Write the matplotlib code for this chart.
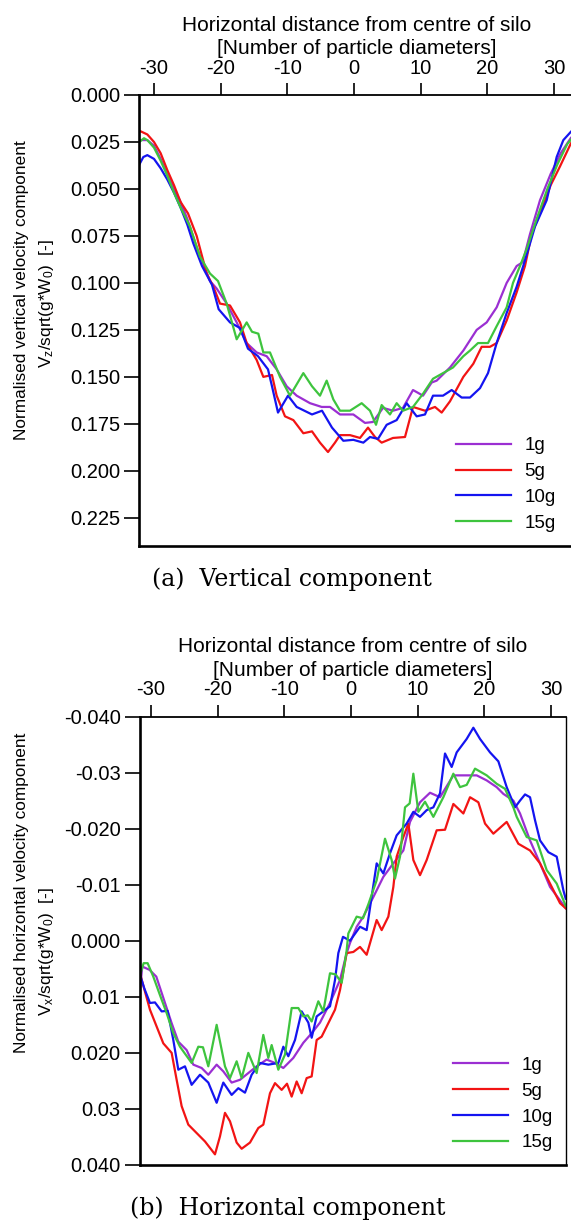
"""Vertical / horizontal velocity profiles across the silo for 1g, 5g, 10g, 15g."""
import matplotlib
matplotlib.use("Agg")
import matplotlib.pyplot as plt
from matplotlib.ticker import FixedLocator, FixedFormatter

plt.rcParams["font.family"] = ["Liberation Sans", "DejaVu Sans"]
plt.rcParams["mathtext.fontset"] = "custom"
plt.rcParams["mathtext.rm"] = "Liberation Sans"
plt.rcParams["mathtext.default"] = "regular"

# ---- data -------------------------------------------------------------------
LABELS = ["1g", "5g", "10g", "15g"]
COLORS = ["#9b2fd2", "#f21414", "#1414f0", "#3ec43e"]

X_TICKS = [-30, -20, -10, 0, 10, 20, 30]
X_TICKLABELS = ["-30", "-20", "-10", "0", "10", "20", "30"]

# (a) vertical component
VZ_TICKS = [0.000, 0.025, 0.050, 0.075, 0.100, 0.125, 0.150, 0.175, 0.200, 0.225]
VZ_TICKLABELS = ["0.000", "0.025", "0.050", "0.075", "0.100", "0.125",
                 "0.150", "0.175", "0.200", "0.225"]

vz_1g_x = [-32.2, -31, -30, -29, -28, -27, -26, -25, -23.6, -21.6, -20.6, -19.1,
           -17.6, -16.1, -14.6, -13.1, -11.6, -10.1, -8.6, -6.6, -4.85, -3.6, -2.1,
           -0.1, 1.65, 2.85, 4.35, 5.85, 7.35, 8.85, 10.35, 11.65, 12.4, 14.4, 16.4,
           18.4, 19.9, 21.4, 22.9, 24.4, 25.3, 26.4, 27.9, 29.5, 31, 32.5, 33]
vz_1g = [0.024, 0.024, 0.027, 0.034, 0.042, 0.050, 0.057, 0.066, 0.081, 0.099,
         0.103, 0.111, 0.121, 0.132, 0.137, 0.139, 0.146, 0.155, 0.160, 0.164,
         0.166, 0.166, 0.170, 0.170, 0.1745, 0.174, 0.1665, 0.168, 0.1665, 0.157,
         0.160, 0.153, 0.152, 0.145, 0.136, 0.125, 0.121, 0.113, 0.100, 0.091,
         0.089, 0.074, 0.056, 0.042, 0.031, 0.023, 0.021]

vz_5g_x = [-32.2, -31, -30, -29, -28, -27, -26, -24.9, -23.6, -22.1, -21.1, -20.1,
           -18.6, -17.1, -16.1, -14.6, -13.6, -12.3, -11.6, -10.35, -9.1, -7.6,
           -6.3, -5.1, -3.9, -2.85, -2.1, -0.6, 0.9, 2.1, 3.15, 4.15, 5.85, 7.65,
           8.85, 10.65, 12.15, 13.15, 14.4, 16.4, 17.9, 19.15, 20.4, 21.4, 22.9,
           24.4, 25.65, 26.65, 28.35, 29.5, 30.9, 32.5, 33]
vz_5g = [0.019, 0.021, 0.025, 0.031, 0.040, 0.048, 0.057, 0.063, 0.075, 0.095,
         0.102, 0.111, 0.112, 0.121, 0.132, 0.141, 0.150, 0.149, 0.160, 0.171,
         0.173, 0.180, 0.179, 0.185, 0.190, 0.185, 0.181, 0.181, 0.1825, 0.177,
         0.182, 0.185, 0.1825, 0.182, 0.166, 0.168, 0.166, 0.169, 0.163, 0.150,
         0.143, 0.134, 0.134, 0.132, 0.120, 0.105, 0.091, 0.074, 0.059, 0.048,
         0.038, 0.026, 0.023]

vz_10g_x = [-32.2, -31.6, -31, -30, -29, -28, -27, -26, -25, -24.1, -22.8, -21.3,
            -20.3, -18.6, -17.1, -15.9, -14.4, -12.9, -12.3, -11.4, -9.9, -8.6,
            -6.3, -4.8, -3.3, -1.6, -0.1, 1.4, 2.4, 3.6, 4.9, 6.4, 7.9, 9.4, 10.65,
            11.85, 13.35, 14.65, 16.15, 17.4, 18.9, 20.1, 21.4, 22.9, 24.4, 25.65,
            27.15, 28.9, 30.4, 31.4, 32.55, 33]
vz_10g = [0.037, 0.033, 0.032, 0.034, 0.039, 0.045, 0.052, 0.060, 0.069, 0.079,
          0.091, 0.101, 0.114, 0.121, 0.124, 0.135, 0.139, 0.146, 0.155, 0.169,
          0.160, 0.166, 0.170, 0.168, 0.177, 0.184, 0.1835, 0.185, 0.182, 0.183,
          0.1755, 0.173, 0.164, 0.171, 0.170, 0.160, 0.160, 0.157, 0.161, 0.161,
          0.156, 0.148, 0.132, 0.116, 0.102, 0.088, 0.070, 0.056, 0.033, 0.024,
          0.0195, 0.018]

vz_15g_x = [-32.2, -31.5, -31, -30, -29, -28, -27, -26, -24.6, -23.1, -21.6, -20.4,
            -19.1, -17.6, -16.1, -15.3, -14.35, -13.6, -12.6, -11.1, -9.6, -7.6,
            -6.3, -5.1, -4.1, -3.1, -2.1, -0.6, 1.15, 2.4, 3.3, 4.15, 5.4, 6.4,
            7.35, 8.85, 10.35, 11.85, 13.35, 14.85, 16.4, 17.4, 18.6, 20.1, 21.4,
            22.9, 23.85, 24.9, 25.9, 27.4, 29, 30.5, 32, 33]
vz_15g = [0.025, 0.023, 0.024, 0.028, 0.035, 0.043, 0.052, 0.060, 0.070, 0.086,
          0.095, 0.099, 0.111, 0.130, 0.121, 0.126, 0.127, 0.137, 0.137, 0.150,
          0.160, 0.148, 0.155, 0.160, 0.152, 0.162, 0.168, 0.168, 0.164, 0.168,
          0.1755, 0.165, 0.170, 0.164, 0.168, 0.166, 0.159, 0.151, 0.148, 0.145,
          0.139, 0.136, 0.132, 0.132, 0.123, 0.113, 0.100, 0.091, 0.082, 0.066,
          0.050, 0.037, 0.026, 0.022]

# (b) horizontal component
VX_TICKS = [-0.04, -0.03, -0.02, -0.01, 0.0, 0.01, 0.02, 0.03, 0.04]
VX_TICKLABELS = ["-0.040", "-0.03", "-0.020", "-0.01", "0.000", "0.01",
                 "0.020", "0.03", "0.040"]

vx_1g_x = [-31.72, -31.3, -30.2, -29.2, -28.2, -26.9, -25.9, -24.65, -23.65, -22.4,
           -21.4, -20.15, -19.15, -17.9, -16.65, -15.4, -14.15, -12.65, -11.4,
           -10.15, -8.65, -7.15, -5.9, -4.65, -3.15, -1.65, -0.65, -0.15, 0.85,
           1.85, 3.35, 4.85, 6.35, 7.85, 8.85, 10.35, 11.85, 13.35, 15.35, 17.35,
           18.85, 20.35, 21.85, 22.85, 24.35, 25.35, 26.85, 28.35, 29.85, 31.35,
           32.2]
vx_1g = [0.0095, 0.0046, 0.0052, 0.0064, 0.0100, 0.0147, 0.0180, 0.0195, 0.0221,
         0.0227, 0.0239, 0.0221, 0.0233, 0.0253, 0.0248, 0.0236, 0.0224, 0.0212,
         0.0218, 0.0227, 0.0209, 0.0182, 0.0165, 0.0146, 0.0111, 0.0070, 0.0022,
         0.0004, -0.0025, -0.0043, -0.0078, -0.0114, -0.0138, -0.0161, -0.0212,
         -0.0247, -0.0264, -0.0256, -0.0295, -0.0295, -0.0295, -0.0286, -0.0274,
         -0.0262, -0.0250, -0.0227, -0.0179, -0.0138, -0.0096, -0.0072, -0.0058]

vx_5g_x = [-31.72, -31.1, -30.15, -29.15, -28.15, -26.9, -26.15, -25.4, -24.4,
           -23.15, -21.9, -20.4, -19.65, -18.9, -18.15, -17.15, -16.4, -15.15,
           -13.9, -13.15, -12.15, -11.4, -10.4, -9.6, -8.9, -8.15, -7.4, -6.65,
           -5.9, -5.15, -4.4, -3.65, -2.4, -1.65, -0.65, 0.35, 1.35, 2.35, 3.85,
           4.6, 5.6, 6.35, 6.85, 7.85, 8.6, 9.35, 10.35, 11.35, 12.85, 14.1, 15.35,
           16.85, 17.85, 19.1, 20.1, 21.35, 23.35, 25.1, 26.85, 28.35, 29.85,
           31.35, 32.2]
vx_5g = [0.0055, 0.0082, 0.0123, 0.0153, 0.0183, 0.0200, 0.0248, 0.0295, 0.0328,
         0.0343, 0.0358, 0.0381, 0.0349, 0.0307, 0.0322, 0.0360, 0.0371, 0.0360,
         0.0334, 0.0328, 0.0272, 0.0254, 0.0266, 0.0255, 0.0278, 0.0251, 0.0272,
         0.0245, 0.0242, 0.0177, 0.0171, 0.0153, 0.0123, 0.0088, 0.0022, 0.0020,
         0.0011, 0.0025, -0.0037, -0.0019, -0.0043, -0.0096, -0.0150, -0.0185,
         -0.0209, -0.0144, -0.0117, -0.0144, -0.0197, -0.0198, -0.0244, -0.0227,
         -0.0256, -0.0247, -0.0209, -0.0191, -0.0212, -0.0173, -0.0161, -0.0138,
         -0.0102, -0.0067, -0.0058]

vx_10g_x = [-31.72, -31, -30.15, -29.4, -28.4, -27.5, -26.65, -25.9, -24.9, -23.9,
            -22.65, -21.4, -20.15, -19.15, -17.9, -16.9, -15.9, -14.9, -13.65,
            -12.4, -10.9, -10.15, -9.4, -8.4, -7.4, -6.4, -5.9, -5.15, -4.15,
            -3.15, -2.4, -1.9, -1.2, -0.15, 1.35, 2.35, 3.85, 4.85, 5.85, 6.85,
            8.35, 9.35, 10.35, 11.35, 12.35, 13.35, 14.1, 15.1, 15.85, 17.35,
            18.35, 19.35, 20.85, 22.1, 23.35, 24.6, 25.35, 26.1, 26.85, 27.6,
            28.35, 29.6, 30.85, 31.85, 32.2]
vx_10g = [0.0058, 0.0085, 0.0111, 0.0110, 0.0126, 0.0125, 0.0177, 0.0230, 0.0224,
          0.0257, 0.0239, 0.0253, 0.0289, 0.0253, 0.0275, 0.0263, 0.0271, 0.0239,
          0.0218, 0.0221, 0.0218, 0.0189, 0.0206, 0.0177, 0.0126, 0.0146, 0.0173,
          0.0135, 0.0126, 0.0117, 0.0070, 0.0022, -0.0007, 0.0000, -0.0025,
          -0.0019, -0.0138, -0.0120, -0.0156, -0.0188, -0.0209, -0.0230, -0.0221,
          -0.0233, -0.0238, -0.0263, -0.0334, -0.0310, -0.0336, -0.0360, -0.0380,
          -0.0360, -0.0336, -0.0320, -0.0274, -0.0238, -0.0250, -0.0261, -0.0256,
          -0.0215, -0.0179, -0.0158, -0.0150, -0.0090, -0.0075]

vx_15g_x = [-31.72, -31.1, -30.5, -29.65, -28.65, -27.65, -26.65, -25.65, -23.9,
            -22.9, -22.2, -21.4, -20.15, -18.9, -18.15, -17.15, -16.4, -15.4,
            -14.15, -13.15, -12.4, -11.9, -10.9, -9.9, -8.9, -7.9, -7.15, -6.5,
            -5.9, -4.9, -4.15, -3.15, -2.3, -1.4, -0.65, -0.4, 0.85, 1.8, 2.6,
            3.85, 5.1, 6.1, 6.6, 7.35, 8.1, 8.8, 9.35, 10.1, 11.1, 12.35, 13.85,
            15.35, 16.35, 17.35, 18.6, 20.35, 21.85, 23.1, 24.35, 24.85, 26.35,
            27.85, 29.35, 30.85, 32.2]
vx_15g = [0.0064, 0.0040, 0.0040, 0.0064, 0.0097, 0.0129, 0.0165, 0.0189, 0.0218,
          0.0189, 0.0190, 0.0224, 0.0150, 0.0224, 0.0245, 0.0215, 0.0245, 0.0200,
          0.0236, 0.0168, 0.0209, 0.0186, 0.0230, 0.0203, 0.0120, 0.0120, 0.0135,
          0.0133, 0.0144, 0.0108, 0.0126, 0.0058, 0.0060, 0.0075, 0.0017, -0.0013,
          -0.0043, -0.0040, -0.0065, -0.0108, -0.0182, -0.0144, -0.0111, -0.0150,
          -0.0238, -0.0245, -0.0298, -0.0230, -0.0248, -0.0221, -0.0256, -0.0298,
          -0.0274, -0.0278, -0.0307, -0.0295, -0.0280, -0.0271, -0.0238, -0.0221,
          -0.0185, -0.0179, -0.0126, -0.0102, -0.0062]


W, H = 571.0, 1226.0  # figure size in pixels (dpi 100)


def _px_rect(left, top, right, bottom):
    """Pixel box (origin top-left) -> figure fraction rect."""
    return [left / W, 1 - bottom / H, (right - left) / W, (bottom - top) / H]


def _draw_panel(fig, rect, xlim, ylim, series, yticks, yticklabels, legend_xy,
                right_spine):
    ax = fig.add_axes(rect)
    for (xs, ys), lab, col in zip(series, LABELS, COLORS):
        ax.plot(xs, ys, color=col, lw=1.6, label=lab, solid_joinstyle="round")
    ax.set_xlim(*xlim)
    ax.set_ylim(*ylim)

    ax.xaxis.tick_top()
    ax.xaxis.set_label_position("top")
    ax.xaxis.set_major_locator(FixedLocator(X_TICKS))
    ax.xaxis.set_major_formatter(FixedFormatter(X_TICKLABELS))
    ax.yaxis.set_major_locator(FixedLocator(yticks))
    ax.yaxis.set_major_formatter(FixedFormatter(yticklabels))
    ax.tick_params(axis="x", direction="out", length=8.5, width=1.2, pad=4,
                   labelsize=14.5, top=True, bottom=False)
    ax.tick_params(axis="y", direction="out", length=10.5, width=1.2, pad=3,
                   labelsize=14.5)

    ax.spines["left"].set_linewidth(1.9)
    ax.spines["bottom"].set_linewidth(1.9)
    ax.spines["top"].set_linewidth(1.3)
    ax.spines["right"].set_linewidth(1.0)
    ax.spines["right"].set_visible(right_spine)

    ax.set_xlabel("Horizontal distance from centre of silo\n"
                  "[Number of particle diameters]", fontsize=15, labelpad=3,
                  linespacing=1.3)

    ax.legend(loc="upper left", bbox_to_anchor=legend_xy, frameon=False,
              fontsize=13.5, handlelength=2.95, handletextpad=0.7,
              labelspacing=0.46, borderpad=0, borderaxespad=0)
    return ax


def main():
    fig = plt.figure(figsize=(W / 100, H / 100), dpi=100)

    # (a) vertical component
    _draw_panel(
        fig, _px_rect(139, 95, 574, 546), (-32.25, 33.0), (0.24, 0.0),
        [(vz_1g_x, vz_1g), (vz_5g_x, vz_5g), (vz_10g_x, vz_10g),
         (vz_15g_x, vz_15g)],
        VZ_TICKS, VZ_TICKLABELS, (0.729, 0.241), right_spine=False)
    fig.text(22 / W, 1 - 290 / H, "Normalised vertical velocity component",
             rotation=90, ha="center", va="center", fontsize=12.4)
    fig.text(47 / W, 1 - 304 / H, "V$_z$/sqrt(g*W$_0$)  [-]",
             rotation=90, ha="center", va="center", fontsize=12.4)
    fig.text(152 / W, 1 - 579 / H, "(a)  Vertical component",
             ha="left", va="center", fontsize=17, family="DejaVu Serif")

    # (b) horizontal component
    _draw_panel(
        fig, _px_rect(139.5, 716.5, 565.7, 1165), (-31.72, 32.2), (0.04, -0.04),
        [(vx_1g_x, vx_1g), (vx_5g_x, vx_5g), (vx_10g_x, vx_10g),
         (vx_15g_x, vx_15g)],
        VX_TICKS, VX_TICKLABELS, (0.7356, 0.241), right_spine=True)
    fig.text(22 / W, 1 - 893 / H, "Normalised horizontal velocity component",
             rotation=90, ha="center", va="center", fontsize=12.4)
    fig.text(47 / W, 1 - 952 / H, "V$_x$/sqrt(g*W$_0$)  [-]",
             rotation=90, ha="center", va="center", fontsize=12.4)
    fig.text(130 / W, 1 - 1208 / H, "(b)  Horizontal component",
             ha="left", va="center", fontsize=17, family="DejaVu Serif")

    fig.savefig("out.png", dpi=100)
    plt.close(fig)


if __name__ == "__main__":
    main()
